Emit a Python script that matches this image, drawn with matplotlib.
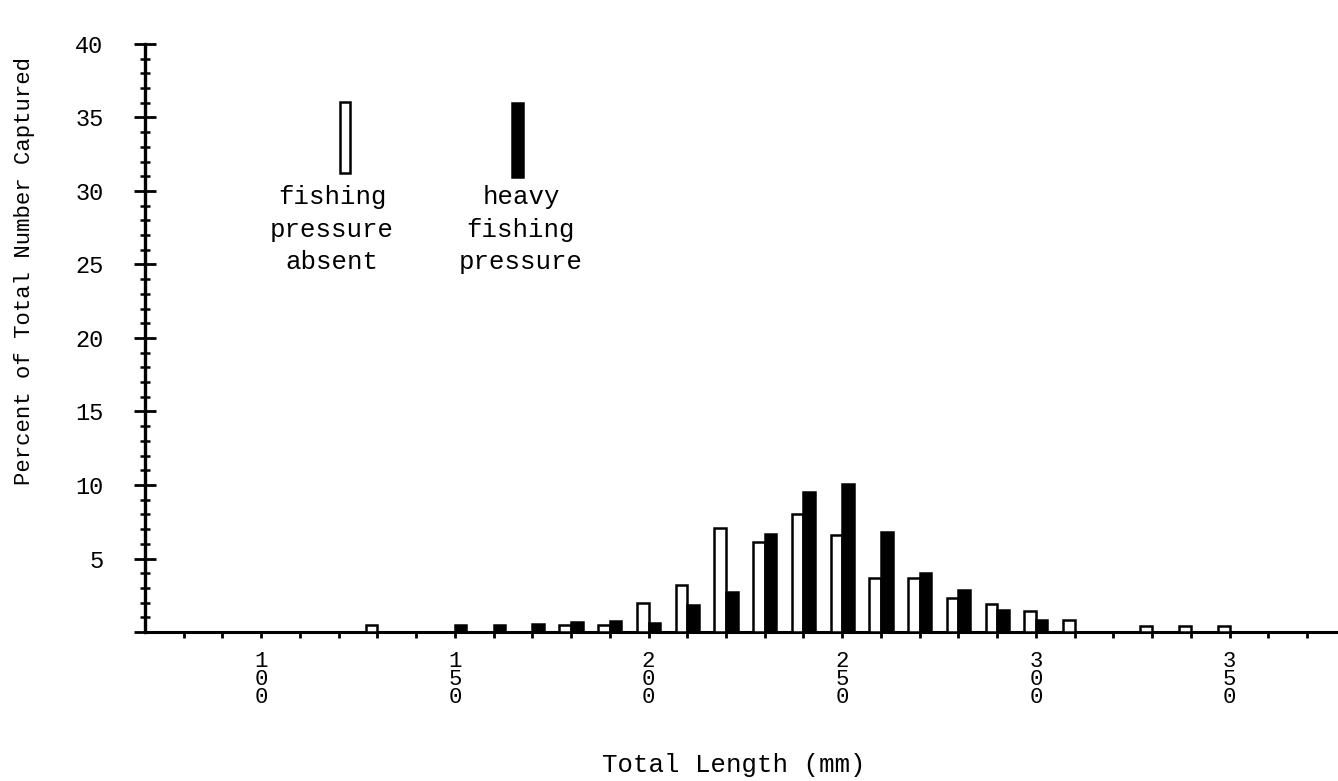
import matplotlib
matplotlib.use("Agg")
import matplotlib.pyplot as plt
from matplotlib.patches import Rectangle
import numpy as np

plt.rcParams['font.family'] = ['Liberation Mono', 'DejaVu Sans Mono']

# total length class (mm) and percent of total number captured
lengths = [130, 140, 150, 160, 170, 180, 190, 200, 210, 220, 230, 240,
           250, 260, 270, 280, 290, 300, 310, 320, 330, 340, 350]
absent = [0.5, 0, 0, 0, 0, 0.5, 0.45, 2.0, 3.2, 7.1, 6.1, 8.0,
          6.6, 3.7, 3.65, 2.3, 1.9, 1.45, 0.85, 0, 0.4, 0.4, 0.4]
heavy = [0, 0, 0.5, 0.45, 0.55, 0.7, 0.75, 0.6, 1.85, 2.75, 6.7, 9.5,
         10.1, 6.8, 4.0, 2.85, 1.5, 0.8, 0, 0, 0, 0, 0]

y_ticks = [0, 5, 10, 15, 20, 25, 30, 35, 40]
x_labels = [100, 150, 200, 250, 300, 350]

W, H = 1338, 781
fig = plt.figure(figsize=(W / 100, H / 100), dpi=100)
ax = fig.add_axes([145 / W, 1 - 632 / H, 1 - 145 / W, (632 - 44) / H])

x = np.array(lengths)
a = np.array(absent)
h = np.array(heavy)
bw = 3.0
ma = a > 0
mh = h > 0
ax.bar(x[ma] - bw / 2, a[ma], width=bw, color='white', edgecolor='black',
       linewidth=1.8, zorder=3)
ax.bar(x[mh] + bw / 2, h[mh], width=bw, color='black', edgecolor='black',
       linewidth=1.8, zorder=3)

ax.set_xlim(70, 378)
ax.set_ylim(0, 40)

for s in ['top', 'right']:
    ax.spines[s].set_visible(False)
ax.spines['left'].set_linewidth(2.4)
ax.spines['bottom'].set_linewidth(2.2)

# y axis: crossing ticks, labels 5..40
ax.set_yticks(y_ticks)
ax.set_yticklabels([''] + [str(v) for v in y_ticks[1:]])
ax.set_yticks(np.arange(0, 41, 1), minor=True)
ax.tick_params(axis='y', which='major', direction='inout', length=16,
               width=2.0, pad=22, labelsize=17)
ax.tick_params(axis='y', which='minor', direction='inout', length=7,
               width=1.8)

# x axis: small ticks every 10 mm, stacked digit labels every 50 mm
xt = np.arange(80, 371, 10)
ax.set_xticks(xt)
ax.set_xticklabels(['\n'.join(str(v)) if v in x_labels else '' for v in xt],
                   linespacing=0.8)
ax.tick_params(axis='x', direction='out', length=4, width=2.0, pad=10,
               labelsize=16)

# hand-drawn key
ax.add_patch(Rectangle((0.1635, 0.7806), 0.0084, 0.1207, transform=ax.transAxes,
                       facecolor='white', edgecolor='black', linewidth=1.8,
                       clip_on=False))
ax.add_patch(Rectangle((0.3076, 0.774), 0.0092, 0.126, transform=ax.transAxes,
                       facecolor='black', edgecolor='black', linewidth=1.8,
                       clip_on=False))
fig.text(332 / W, 1 - 185 / H, 'fishing\npressure\nabsent', ha='center',
         va='top', multialignment='center', fontsize=18.5, linespacing=1.45)
fig.text(521 / W, 1 - 185 / H, 'heavy\nfishing\npressure', ha='center',
         va='top', multialignment='center', fontsize=18.5, linespacing=1.45)

fig.text(734 / W, 1 - 765 / H, 'Total Length (mm)', ha='center', va='center',
         fontsize=18.5)
fig.text(25 / W, 1 - 271 / H, 'Percent of Total Number Captured', ha='center',
         va='center', rotation=90, fontsize=16)

fig.savefig('out.png', dpi=100)
